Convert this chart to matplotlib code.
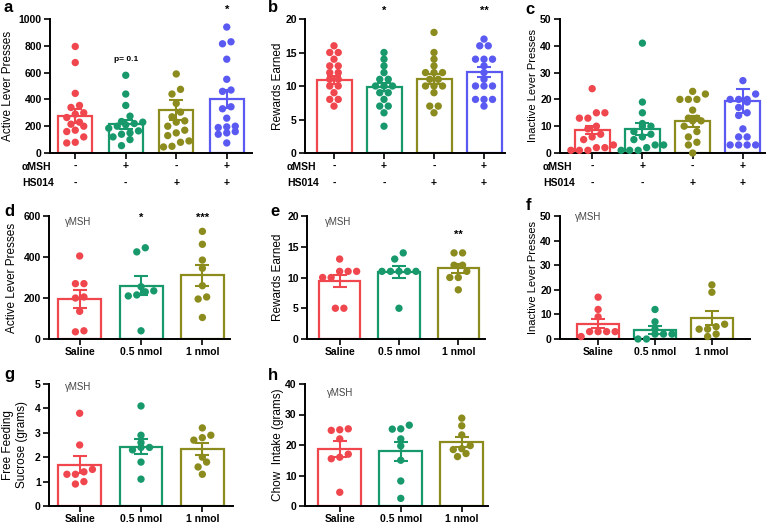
import numpy as np
import matplotlib
matplotlib.use("Agg")
import matplotlib.pyplot as plt

plt.rcParams['font.family'] = ['Liberation Sans', 'DejaVu Sans']

W, H = 770, 524
cols4 = ['#F0464D', '#17996C', '#8B8B1E', '#5A5AF2']
cols3 = cols4[:3]

amsh = ['-', '+', '-', '+']
hs014 = ['-', '-', '+', '+']
doses = ['Saline', '0.5 nmol', '1 nmol']

# top row: active presses, rewards, inactive presses (n ~ 16 per group)
a_pts = [[795, 675, 445, 355, 340, 300, 290, 265, 230, 215, 200, 170, 160, 120, 80, 75],
         [580, 440, 355, 275, 235, 230, 220, 210, 200, 185, 165, 150, 140, 120, 100, 55],
         [590, 475, 440, 370, 305, 270, 240, 230, 200, 170, 150, 130, 90, 80, 50, 45],
         [940, 830, 815, 700, 550, 470, 460, 345, 330, 260, 200, 195, 190, 160, 150, 140, 75]]
a_mean = [275, 215, 320, 405]
a_sem = [50, 35, 75, 68]

b_pts = [[16, 15, 15, 14, 13, 13, 12, 12, 11, 11, 10, 10, 9, 8, 8, 7],
         [15, 14, 13, 12, 11, 11, 10, 10, 10, 9, 9, 8, 7, 7, 6, 4],
         [18, 15, 14, 13, 12, 12, 12, 11, 11, 10, 10, 10, 9, 7, 7, 6],
         [17, 16, 16, 14, 14, 14, 13, 12, 11, 10, 10, 10, 8, 8, 8, 7]]
b_mean = [10.9, 9.8, 11.1, 12.1]
b_sem = [0.6, 0.6, 0.75, 0.75]

c_pts = [[24, 15, 15, 13, 13, 10, 9, 7, 6, 5, 3, 2, 2, 1, 1, 1],
         [41, 19, 15, 11, 10, 10, 8, 7, 6, 5, 3, 3, 2, 1, 1, 1],
         [23, 22, 20, 20, 20, 16, 13, 13, 12, 12, 10, 8, 6, 4, 3, 0],
         [27, 22, 20, 20, 20, 19, 17, 15, 14, 9, 6, 6, 3, 3, 3, 3]]
c_mean = [8.6, 9.0, 11.8, 19.3]
c_sem = [1.5, 2.2, 2.0, 4.4]

# gamma-MSH dose panels (n = 8)
d_pts = [[405, 270, 270, 205, 200, 135, 40, 35],
         [445, 425, 255, 235, 230, 215, 210, 40],
         [525, 462, 385, 345, 260, 205, 195, 105]]
d_mean = [195, 260, 310]
d_sem = [45, 45, 52]

e_pts = [[13, 11, 11, 11, 10, 10, 5, 5],
         [14, 13, 11, 11, 11, 11, 11, 5],
         [14, 14, 12, 12, 11, 10, 10, 8]]
e_mean = [9.4, 10.9, 11.5]
e_sem = [1.0, 0.9, 0.7]

f_pts = [[17, 12, 9, 3, 3, 3, 3, 1],
         [12, 7, 4, 2, 2, 2, 0, 0],
         [22, 19, 6, 5, 4, 4, 2, 1]]
f_mean = [6.3, 3.6, 8.4]
f_sem = [2.0, 1.5, 2.8]

g_pts = [[3.8, 2.5, 1.5, 1.4, 1.3, 1.3, 1.0, 0.9],
         [4.1, 2.9, 2.6, 2.4, 2.4, 2.3, 1.8, 1.1],
         [3.2, 2.9, 2.8, 2.7, 2.0, 1.8, 1.6, 1.3]]
g_mean = [1.7, 2.43, 2.33]
g_sem = [0.33, 0.3, 0.25]

h_pts = [[25.3, 25.0, 24.8, 22.0, 17.0, 16.0, 15.5, 4.5],
         [26.5, 25.3, 25.2, 22.0, 19.7, 15.0, 8.2, 2.5],
         [28.8, 26.3, 23.3, 19.8, 18.8, 18.5, 17.2, 16.2]]
h_mean = [18.7, 17.9, 21.0]
h_sem = [2.5, 3.2, 1.6]

fig = plt.figure(figsize=(W / 100, H / 100), dpi=100)


def make_ax(x0, x1, ytop, ybot):
    return fig.add_axes([x0 / W, 1 - ybot / H, (x1 - x0) / W, (ybot - ytop) / H])


def swarm(ax, xc, vals, color, d=8.5):
    # group near-equal values into rows and centre each row on the bar
    tr = ax.transData
    ppu_x = tr.transform((1, 0))[0] - tr.transform((0, 0))[0]
    vals = np.sort(np.asarray(vals, float))
    ypx = np.array([tr.transform((0, v))[1] for v in vals])
    xs = np.zeros(len(vals))
    i = 0
    while i < len(vals):
        j = i + 1
        while j < len(vals) and ypx[j] - ypx[i] < 6.5:
            j += 1
        n = j - i
        xs[i:j] = (np.arange(n) - (n - 1) / 2) * d
        i = j
    ax.scatter(xc + xs / ppu_x, vals, s=28, color=color, edgecolors='none',
               zorder=4, clip_on=False)


def panel(ax, pts, means, sems, colors, ylim, yticks, ylabel, xlim, width,
          lsize=8.5):
    x = np.arange(len(means))
    ax.set_xlim(*xlim)
    ax.set_ylim(*ylim)
    ax.bar(x, means, width=width, facecolor='white', edgecolor=colors,
           linewidth=1.6, zorder=2)
    for i in x:
        ax.errorbar(i, means[i], yerr=sems[i], color=colors[i], lw=1.5,
                    capsize=5, capthick=1.5, zorder=5)
        swarm(ax, i, pts[i], colors[i])
    ax.set_yticks(yticks)
    ax.set_xticks(x)
    for s in ['top', 'right']:
        ax.spines[s].set_visible(False)
    for s in ['left', 'bottom']:
        ax.spines[s].set_linewidth(1.4)
    ax.tick_params(width=1.2, length=4, labelsize=7.5, pad=2)
    for lab in ax.get_yticklabels() + ax.get_xticklabels():
        lab.set_fontweight('bold')
    ax.set_ylabel(ylabel, fontsize=lsize, va='center')


def label_x(ax, px):
    # place the y label centre at a given figure pixel x
    bb = ax.get_position()
    ax.yaxis.set_label_coords((px / W - bb.x0) / bb.width, 0.5)


def letter(s, px, py):
    fig.text(px / W, 1 - py / H, s, fontsize=12, fontweight='bold', va='center')


def gmsh(ax, fx, fy):
    ax.text(fx, fy, 'γMSH', transform=ax.transAxes, fontsize=7,
            color='#444444', va='center', ha='left')


def star(ax, xi, y, s, size=8):
    ax.text(xi, y, s, ha='center', va='center', fontsize=size,
            fontweight='bold', clip_on=False)


# ---- top row
ax_a = make_ax(50, 252, 19, 153)
panel(ax_a, a_pts, a_mean, a_sem, cols4, (0, 1000), range(0, 1001, 200),
      'Active Lever Presses', (-0.5, 3.5), 0.67)
ax_b = make_ax(305, 505, 19, 153)
panel(ax_b, b_pts, b_mean, b_sem, cols4, (0, 20), range(0, 21, 5),
      'Rewards Earned', (-0.58, 3.42), 0.7)
ax_c = make_ax(560, 765, 19, 153)
panel(ax_c, c_pts, c_mean, c_sem, cols4, (0, 50), range(0, 51, 10),
      'Inactive Lever Presses', (-0.64, 3.44), 0.7, lsize=8)

for ax, lx0, lx in [(ax_a, 22, 8), (ax_b, 287, 278), (ax_c, 543, 533)]:
    ax.set_xticklabels(amsh)
    label_x(ax, lx)
    for i, s in enumerate(hs014):
        ax.annotate(s, xy=(i, 0), xycoords=('data', 'axes fraction'),
                    xytext=(0, -30), textcoords='offset pixels',
                    ha='center', va='center', fontsize=7.5, fontweight='bold')
    fig.text(lx0 / W, 1 - 167 / H, 'αMSH', fontsize=7.5, fontweight='bold',
             va='center', ha='left')
    fig.text(lx0 / W, 1 - 183 / H, 'HS014', fontsize=7.5, fontweight='bold',
             va='center', ha='left')

star(ax_a, 3, 1065, '*')
ax_a.text(1, 695, 'p= 0.1', ha='center', va='center', fontsize=6,
          fontweight='bold')
star(ax_b, 1, 21.2, '*')
star(ax_b, 3, 21.2, '**')

letter('a', 3, 8)
letter('b', 268, 8)
letter('c', 525, 10)

# ---- middle row
ax_d = make_ax(49, 230, 216, 339)
panel(ax_d, d_pts, d_mean, d_sem, cols3, (0, 600), range(0, 601, 200),
      'Active Lever Presses', (-0.5, 2.45), 0.7)
ax_e = make_ax(307, 485, 216, 339)
panel(ax_e, e_pts, e_mean, e_sem, cols3, (0, 20), range(0, 21, 5),
      'Rewards Earned', (-0.55, 2.45), 0.7)
ax_f = make_ax(560, 750, 216, 339)
panel(ax_f, f_pts, f_mean, f_sem, cols3, (0, 50), range(0, 51, 10),
      'Inactive Lever Presses', (-0.67, 2.67), 0.74, lsize=8)

star(ax_d, 1, 590, '*')
star(ax_d, 2, 590, '***')
star(ax_e, 2, 16.9, '**')
gmsh(ax_d, 0.09, 0.95)
gmsh(ax_e, 0.10, 0.95)
gmsh(ax_f, 0.08, 0.99)
label_x(ax_d, 12)
label_x(ax_e, 278)
label_x(ax_f, 533)

letter('d', 4, 212)
letter('e', 270, 212)
letter('f', 526, 205)

# ---- bottom row
ax_g = make_ax(49, 233, 384, 506)
panel(ax_g, g_pts, g_mean, g_sem, cols3, (0, 5), range(0, 6),
      'Free Feeding\nSucrose (grams)', (-0.5, 2.5), 0.7)
ax_h = make_ax(305, 488, 384, 506)
panel(ax_h, h_pts, h_mean, h_sem, cols3, (0, 40), range(0, 41, 10),
      'Chow  Intake (grams)', (-0.57, 2.43), 0.7)
gmsh(ax_g, 0.087, 0.975)
gmsh(ax_h, 0.12, 0.93)
label_x(ax_g, 15)
label_x(ax_h, 278)

letter('g', 4, 375)
letter('h', 268, 375)

for ax in [ax_d, ax_e, ax_f, ax_g, ax_h]:
    ax.set_xticklabels(doses)
    for lab in ax.get_xticklabels():
        lab.set_fontweight('bold')

fig.savefig('out.png', dpi=100)
